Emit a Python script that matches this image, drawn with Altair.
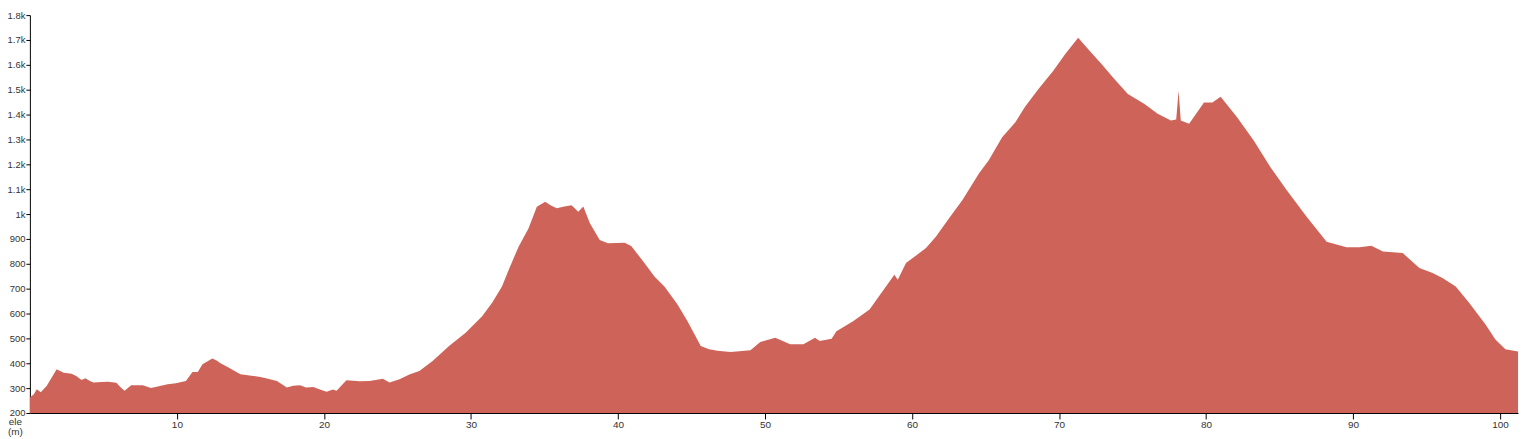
import altair as alt
import pandas as pd

km = [0.0, 0.27, 0.47, 0.74, 1.15, 1.82, 2.30, 2.84, 3.18, 3.51, 3.78, 4.05, 4.32, 4.86, 5.32,
      5.88, 6.15, 6.44, 6.89, 7.68, 8.24, 9.37, 9.93, 10.61, 11.06, 11.42, 11.74, 12.41, 12.70,
      12.97, 13.51, 14.32, 15.20, 15.68, 16.13, 16.80, 17.48, 17.91, 18.38, 18.78, 19.28, 19.73,
      20.18, 20.61, 20.86, 21.53, 22.43, 23.11, 24.01, 24.46, 25.14, 25.81, 26.49, 27.39, 27.84,
      28.51, 29.64, 30.76, 31.44, 32.11, 32.57, 33.24, 33.92, 34.48, 35.05, 35.41, 35.83, 36.35,
      36.84, 37.30, 37.64, 38.09, 38.76, 39.32, 40.45, 40.90, 41.80, 42.48, 43.16, 44.05, 44.73,
      45.63, 46.20, 46.76, 47.66, 49.01, 49.68, 50.70, 51.71, 52.61, 53.40, 53.72, 54.53, 54.86,
      55.99, 57.11, 57.79, 58.80, 59.03, 59.59, 60.95, 61.62, 62.52, 63.43, 64.55, 65.22, 66.13,
      67.03, 67.70, 68.60, 69.61, 70.41, 71.30, 72.09, 72.89, 73.67, 74.68, 75.81, 76.71, 77.61,
      77.97, 78.13, 78.28, 78.85, 79.86, 80.43, 80.99, 82.11, 83.24, 84.37, 85.49, 86.84, 88.20,
      89.55, 90.45, 91.24, 92.03, 93.38, 94.51, 95.41, 96.08, 96.98, 97.89, 99.01, 99.68, 100.36,
      101.22]

ele = [262, 275, 296, 283, 310, 376, 362, 358, 348, 333, 340, 330, 323, 325, 326,
       322, 305, 289, 312, 312, 301, 316, 320, 329, 365, 365, 396, 419, 411,
       400, 383, 356, 349, 345, 339, 329, 303, 310, 312, 303, 305, 295,
       285, 295, 289, 332, 328, 329, 338, 323, 336, 355, 369, 409, 433,
       469, 523, 589, 643, 709, 776, 869, 943, 1029, 1049, 1035, 1023, 1030,
       1035, 1009, 1030, 963, 896, 883, 885, 872, 803, 749, 709, 636, 569,
       469, 456, 450, 445, 452, 485, 503, 476, 476, 503, 490, 499, 529,
       569, 616, 672, 756, 736, 803, 863, 909, 983, 1056, 1163, 1216, 1309,
       1369, 1432, 1503, 1576, 1643, 1709, 1656, 1603, 1549, 1483, 1443, 1403, 1376,
       1380, 1496, 1376, 1363, 1449, 1449, 1472, 1389, 1296, 1189, 1096, 989, 889,
       867, 867, 873, 849, 843, 783, 763, 743, 709, 643, 556, 496, 456,
       447]

x_ticks = [10, 20, 30, 40, 50, 60, 70, 80, 90, 100]
y_ticks = [200, 300, 400, 500, 600, 700, 800, 900, 1000, 1100, 1200, 1300, 1400, 1500, 1600, 1700, 1800]

df = pd.DataFrame({"km": km, "ele": ele})

y_label_expr = ("datum.value >= 1000 ? format(datum.value / 1000, '.1~f') + 'k' "
                ": format(datum.value, 'd')")

chart = alt.Chart(df).mark_area(
    color="#CE6459", opacity=1, interpolate="linear"
).encode(
    x=alt.X("km:Q",
            scale=alt.Scale(domain=[0, 101.22], nice=False, zero=False),
            axis=alt.Axis(values=x_ticks, title=None, grid=False, domainColor="#000",
                          tickColor="#000", tickSize=6, labelFontSize=10, labelColor="#333",
                          labelPadding=1, labelFont="Liberation Sans")),
    y=alt.Y("ele:Q",
            scale=alt.Scale(domain=[200, 1800], nice=False, zero=False),
            axis=alt.Axis(values=y_ticks, labelExpr=y_label_expr, grid=False, domainColor="#000",
                          tickColor="#000", tickSize=4, labelFontSize=9.5, labelColor="#333",
                          labelPadding=1, labelFont="Liberation Sans",
                          title=["ele", "(m)"], titleAngle=0, titleX=-15, titleY=404,
                          titleAlign="center", titleBaseline="top", titleFontSize=10,
                          titleFontWeight="normal", titleColor="#333", titleLineHeight=10,
                          titleFont="Liberation Sans")),
    y2=alt.datum(200),
).properties(
    width=1496, height=400,
    autosize=alt.AutoSizeParams(type="none"),
    padding={"left": 22, "top": 6, "right": 8, "bottom": 25},
).configure_view(stroke=None)

chart.save("out.html", embed_options={"renderer": "svg", "actions": False})
